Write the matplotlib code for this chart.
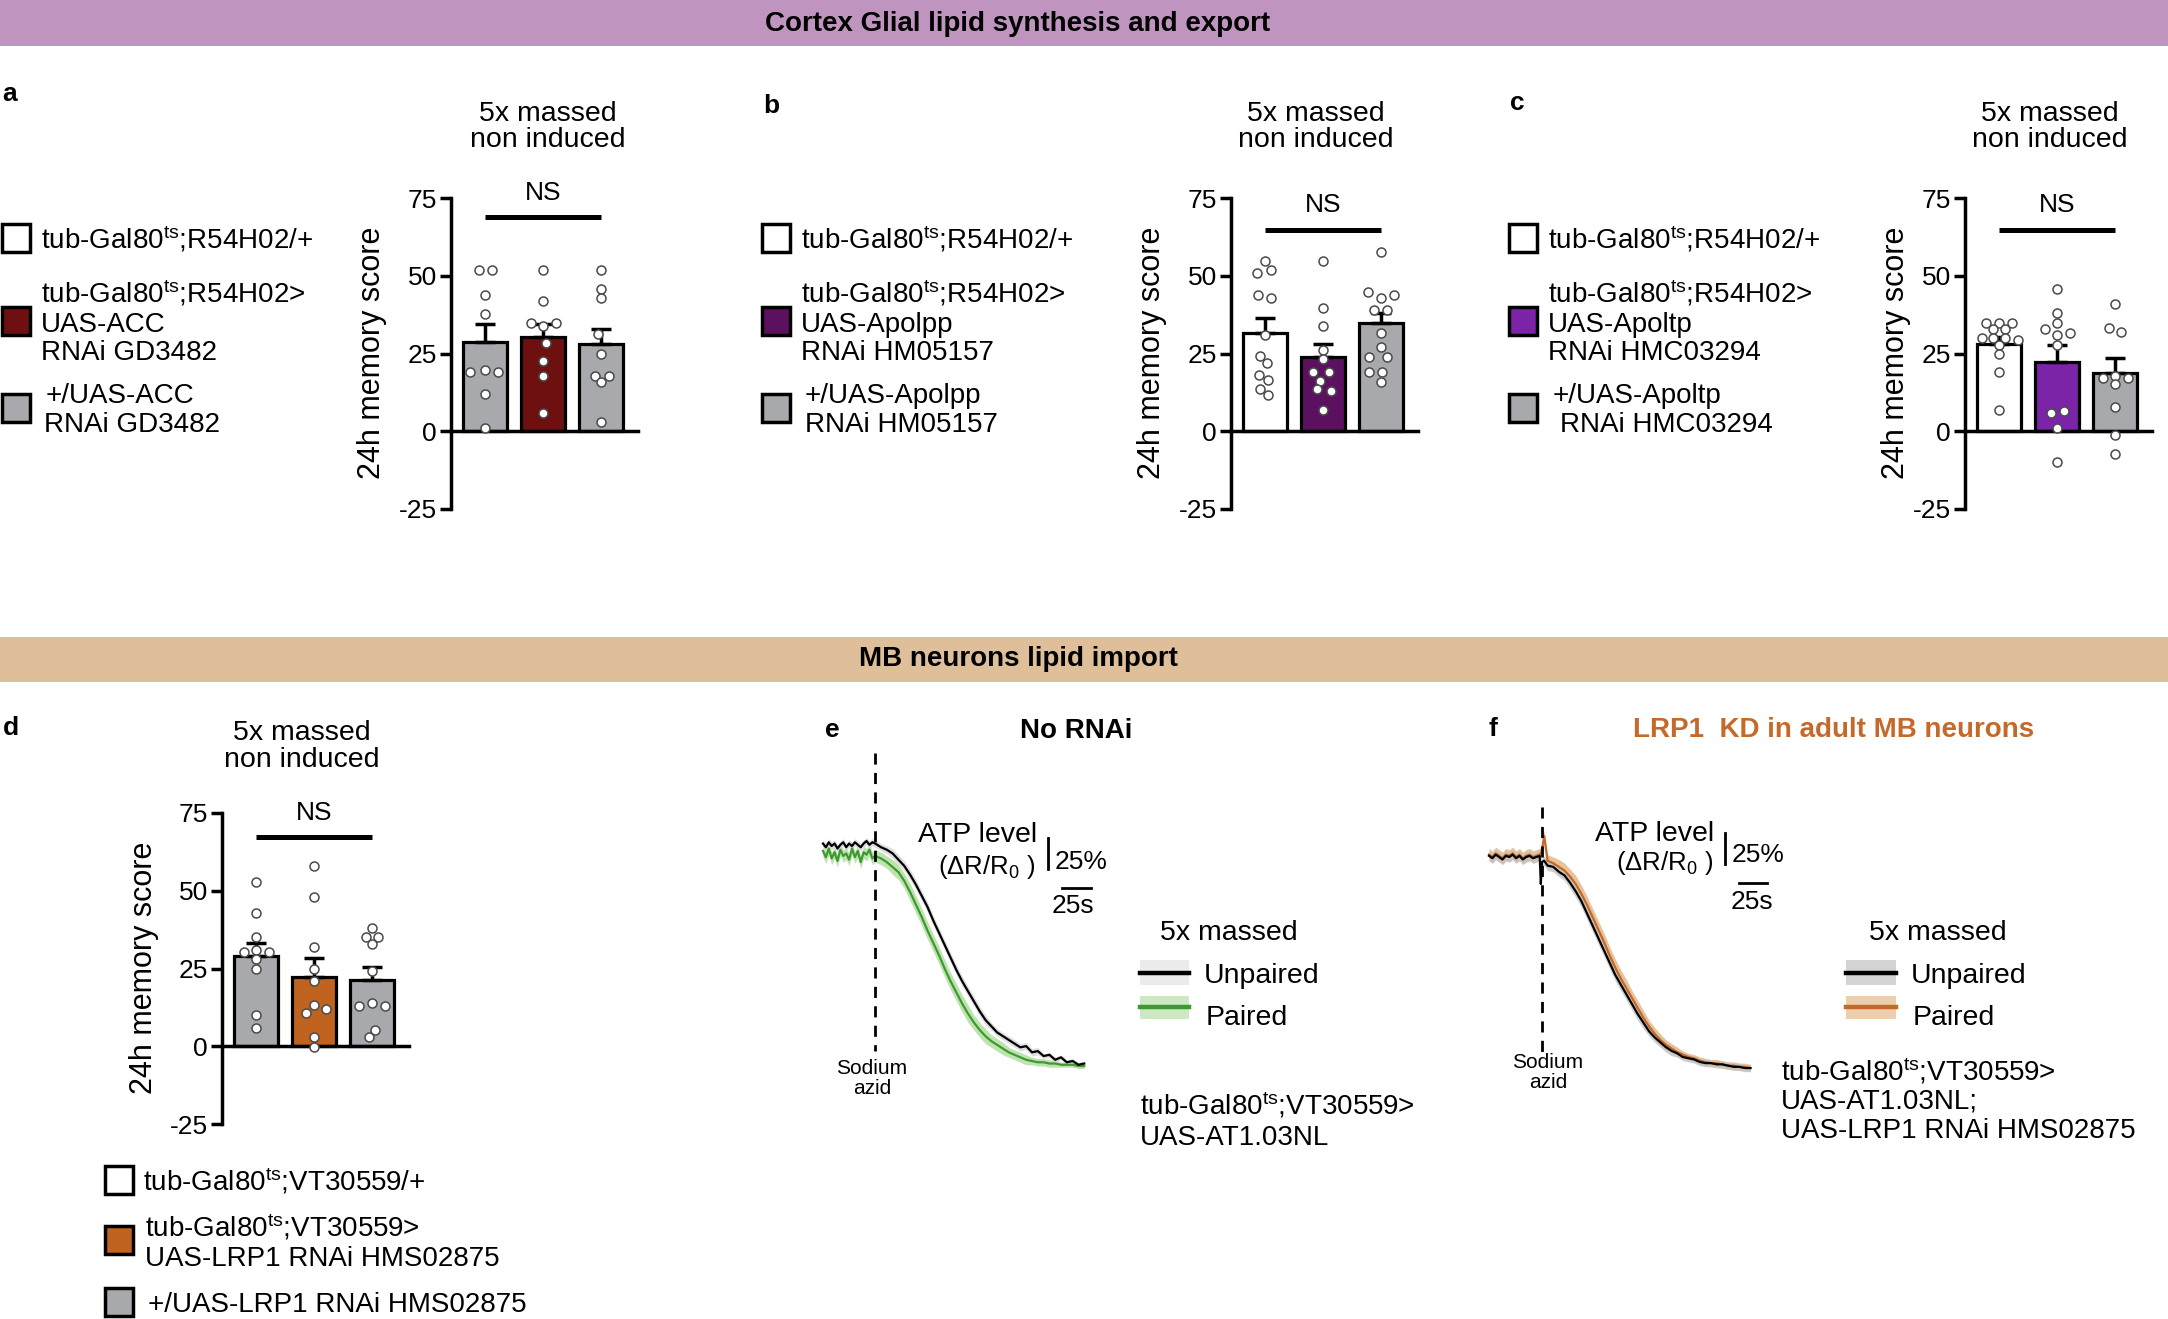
import numpy as np
import matplotlib
matplotlib.use('Agg')
import matplotlib.pyplot as plt
from matplotlib.patches import Rectangle
from matplotlib.lines import Line2D

plt.rcParams['font.family'] = ['Liberation Sans', 'DejaVu Sans']
plt.rcParams['mathtext.fontset'] = 'custom'
plt.rcParams['mathtext.rm'] = 'Liberation Sans'
plt.rcParams['mathtext.it'] = 'Liberation Sans:italic'
plt.rcParams['mathtext.bf'] = 'Liberation Sans:bold'

# ------------------------------------------------------------------ data
yticks = [-25, 0, 25, 50, 75]

# panel a
a_means = [28.8, 30.3, 28.0]
a_sems = [5.6, 4.3, 4.8]
a_vals = [[51.7, 51.7, 43.7, 37.8, 18.9, 19.7, 18.9, 12.0, 1.0],
          [51.7, 41.9, 34.9, 33.9, 34.9, 28.5, 22.6, 17.8, 5.9],
          [51.7, 45.8, 42.7, 31.2, 24.8, 17.8, 17.8, 15.7, 3.1]]
a_offs = [[-0.10, 0.12, 0, 0, -0.26, 0, 0.22, 0, 0],
          [0, 0, -0.20, 0, 0.22, 0.05, 0, 0, 0],
          [0, 0, 0, -0.05, 0, -0.10, 0.13, 0, 0]]
a_colors = ['#a7a9ac', '#6e1010', '#a7a9ac']
a_leg_colors = ['white', '#6e1010', '#a7a9ac']

# panel b
b_means = [31.7, 24.0, 34.7]
b_sems = [4.8, 4.0, 3.4]
b_vals = [[54.7, 50.9, 51.7, 43.7, 42.7, 31.0, 24.3, 21.8, 18.2, 16.5, 13.6, 11.6],
          [54.7, 39.7, 33.7, 26.1, 23.2, 18.9, 18.9, 16.2, 13.6, 13.0, 6.8],
          [57.7, 44.9, 42.7, 43.8, 38.9, 38.9, 31.7, 27.1, 23.9, 23.9, 18.9, 18.9, 15.7]]
b_offs = [[0, -0.14, 0.10, -0.12, 0.10, 0, -0.08, 0.04, -0.10, 0.06, -0.08, 0.05],
          [0, 0, 0, 0, 0, -0.18, 0.11, -0.06, -0.10, 0.14, 0],
          [0, -0.22, 0, 0.22, -0.12, 0.10, 0, 0, -0.20, 0.10, -0.20, 0.02, 0]]
b_colors = ['white', '#5c1060', '#a7a9ac']

# panel c
c_means = [28.2, 22.3, 18.7]
c_sems = [2.1, 5.5, 4.7]
c_vals = [[34.9, 34.9, 34.9, 32.8, 32.8, 30.1, 30.1, 30.1, 29.3, 27.8, 24.8, 18.9, 6.8],
          [45.8, 38.1, 34.9, 33.0, 31.7, 30.8, 27.8, 6.0, 6.5, 1.0, -10.0],
          [40.8, 33.3, 31.9, 17.1, 17.8, 17.1, 15.2, 7.7, -1.1, -7.3]]
c_offs = [[-0.22, 0, 0.22, -0.10, 0.10, -0.30, -0.10, 0.10, 0.33, 0, 0, 0, 0],
          [0, 0, 0, -0.20, 0.22, 0, 0, -0.10, 0.12, 0, 0],
          [0, -0.10, 0.10, -0.20, 0, 0.22, 0, 0, 0, 0]]
c_colors = ['white', '#7b24a8', '#a7a9ac']

# panel d
d_means = [29.1, 22.4, 21.3]
d_sems = [4.2, 5.9, 4.3]
d_vals = [[52.8, 42.8, 35.1, 30.3, 30.8, 30.3, 27.9, 25.0, 9.9, 6.0],
          [57.9, 47.9, 31.9, 25.0, 20.9, 10.8, 12.0, 13.3, 2.9, -0.4],
          [38.0, 35.1, 35.1, 32.9, 24.1, 13.0, 13.9, 13.0, 5.1, 2.9]]
d_offs = [[0, 0, 0, -0.20, 0, 0.22, 0, 0, 0, 0],
          [0, 0, 0, 0, 0, -0.14, 0.20, 0, 0, 0],
          [0, -0.10, 0.11, 0, 0, -0.22, 0, 0.22, 0.06, -0.06]]
d_colors = ['#a7a9ac', '#c0631f', '#a7a9ac']
d_leg_colors = ['white', '#c0631f', '#a7a9ac']

# panel e traces (time s relative to sodium azide, ATP level dR/R0 %)
e_t = [-45, -42.5, -40, -37.5, -35, -32.5, -30, -27.5, -25, -22.5, -20, -17.5,
       -15, -12.5, -10, -7.5, -5, -2.5, 0,
       5, 10, 15, 20, 25, 30, 35, 40, 45, 50, 55, 60, 65, 70, 75, 80, 85, 90,
       95, 100, 105, 110, 115, 120, 125, 130, 135, 140, 145, 150, 155, 160,
       165, 170, 175, 180]
e_unpaired = [2, -1, 3, 0, 2, -2, 1, 3, -1, 2, 0, 3, 1, -1, 2, 4, 1, 3, 2,
              -1, -3, -6, -11, -16, -23, -31, -40, -49, -60, -70, -80, -90, -100,
              -109, -117, -125, -133, -140, -145, -150, -153, -156, -159, -162,
              -161, -166, -165, -169, -168, -172, -170, -174, -173, -176, -175]
e_paired = [-4, -9, -2, -10, -5, -12, -3, -8, -6, -11, -2, -9, -4, -13, -5, -7, -3, -10, -8,
            -10, -13, -17, -21, -28, -37, -47, -57, -68, -78, -88, -99, -109, -118,
            -127, -135, -142, -148, -153, -157, -160, -163, -166, -168, -170, -172,
            -173, -174, -174, -175, -175, -176, -176, -176, -177, -177]
e_unpaired_sem = [3, 3, 3, 3, 3, 3, 3, 3, 3, 3, 3, 3, 3, 3, 3, 3, 3, 3, 3,
                  3, 3, 4, 4, 4, 4, 4, 4, 4, 4, 4, 4, 4, 4, 4, 4, 4, 4, 4, 3, 3,
                  3, 3, 3, 3, 3, 3, 3, 2, 2, 2, 2, 2, 2, 2, 2]
e_paired_sem = [5, 5, 5, 5, 5, 5, 5, 5, 5, 5, 5, 5, 5, 5, 5, 5, 5, 5, 5,
                5, 5, 6, 6, 6, 7, 7, 7, 7, 7, 7, 7, 7, 7, 7, 7, 6, 6, 6, 5, 5,
                5, 4, 4, 4, 4, 3, 3, 3, 3, 3, 2, 2, 2, 2, 2]

# panel f traces
f_t = [-47, -44, -41, -38, -35, -32, -29, -26, -23, -20, -17, -14, -11, -8, -5, -2,
       -1, 0, 2,
       5, 10, 15, 20, 25, 30, 35, 40, 45, 50, 55, 60, 65, 70, 75, 80, 85, 90,
       95, 100, 105, 110, 115, 120, 125, 130, 135, 140, 145, 150, 155, 160,
       165, 170, 175, 180, 185]
f_unpaired = [1, -1, 2, 0, -2, 1, 0, 2, -1, 1, -2, 0, 1, -1, 0, 1,
              -22, -4, -3,
              -7, -8, -12, -15, -21, -28, -36, -46, -56, -66, -76, -86, -96, -104,
              -112, -120, -128, -135, -142, -147, -151, -155, -158, -160, -163,
              -164, -165, -167, -168, -168, -169, -169, -170, -171, -171, -172, -172]
f_paired = [2, 0, 3, 1, -1, 2, 1, 3, 0, 2, -1, 1, 2, 0, 1, 2,
            3, 6, 17,
            -3, -5, -8, -11, -16, -22, -30, -39, -49, -59, -69, -80, -90, -99,
            -107, -115, -123, -131, -138, -144, -149, -153, -156, -159, -161,
            -163, -164, -166, -167, -168, -168, -169, -170, -170, -171, -171, -172]
f_unpaired_sem = [4, 4, 4, 4, 4, 4, 4, 4, 4, 4, 4, 4, 4, 4, 4, 4,
                  4, 4, 4,
                  4, 4, 4, 4, 5, 5, 5, 5, 5, 5, 5, 5, 5, 5, 5, 5, 5, 5, 4, 4,
                  4, 4, 4, 3, 3, 3, 3, 3, 3, 3, 3, 3, 3, 3, 3, 3, 3]
f_paired_sem = [5, 5, 5, 5, 5, 5, 5, 5, 5, 5, 5, 5, 5, 5, 5, 5,
                5, 5, 5,
                5, 5, 6, 6, 6, 7, 7, 7, 7, 7, 7, 7, 7, 7, 7, 6, 6, 6, 5, 5,
                5, 4, 4, 4, 3, 3, 3, 3, 3, 3, 3, 3, 3, 3, 3, 3, 3]

# ------------------------------------------------------------------ figure
W, H = 2168, 1319
fig = plt.figure(figsize=(W / 100, H / 100), dpi=100)


def T(x, y, s, **kw):
    return fig.text(x / W, 1 - y / H, s, **kw)


def AX(x0, y0, x1, y1):
    return fig.add_axes([x0 / W, 1 - y1 / H, (x1 - x0) / W, (y1 - y0) / H])


def L(x0, y0, x1, y1, **kw):
    fig.add_artist(Line2D([x0 / W, x1 / W], [1 - y0 / H, 1 - y1 / H], **kw))


def R(x0, y0, x1, y1, **kw):
    fig.add_artist(Rectangle((x0 / W, 1 - y1 / H), (x1 - x0) / W, (y1 - y0) / H, **kw))


TS = r'$^{\rm ts}$'
FS_TITLE = 20.5
FS_YLAB = 22
FS_TICK = 19
FS_NS = 19
FS_LEG = 20

# headers
R(0, 0, W, 46, facecolor='#bf95bf', edgecolor='none', zorder=0)
T(1018, 24, 'Cortex Glial lipid synthesis and export', ha='center', va='center',
  fontsize=20, fontweight='bold')
R(0, 637, W, 682, facecolor='#dfbf99', edgecolor='none', zorder=0)
T(1018, 659, 'MB neurons lipid import', ha='center', va='center',
  fontsize=20, fontweight='bold')


def bar_panel(x_axis, y75, means, sems, colors, offs, vals, ns_y, ns_txt_y):
    ax = AX(x_axis, y75, x_axis + 187, y75 + 311)
    xs = np.arange(3)
    ax.bar(xs, means, width=0.76, color=colors, edgecolor='black', linewidth=2.3, zorder=2)
    ax.errorbar(xs, means, yerr=[np.zeros(3), sems], fmt='none', ecolor='black',
                elinewidth=2.5, capsize=7, capthick=2.5, zorder=3)
    for i in range(3):
        ax.scatter(i + np.array(offs[i]), vals[i], s=42, facecolor='white',
                   edgecolor='#4a4a4a', linewidth=1.1, zorder=5, clip_on=False)
    ax.set_xlim(-0.586, 2.638)
    ax.set_ylim(-25, 75)
    for s in ['top', 'right']:
        ax.spines[s].set_visible(False)
    ax.spines['bottom'].set_position(('data', 0))
    ax.spines['bottom'].set_linewidth(2.5)
    ax.spines['left'].set_linewidth(2.5)
    ax.set_xticks([])
    ax.set_yticks(yticks)
    ax.set_yticklabels([str(v) for v in yticks])
    ax.tick_params(axis='y', length=8, width=2.5, labelsize=FS_TICK, pad=2)
    ax.patch.set_alpha(0)
    ax.plot([0, 2], [ns_y, ns_y], color='black', lw=3.6, solid_capstyle='butt', clip_on=False)
    ax.text(1, ns_txt_y, 'NS', ha='center', va='center', fontsize=FS_NS)
    return ax


def legend_rows(x_box, rows):
    for yc, fc, lines in rows:
        R(x_box, yc - 14, x_box + 28, yc + 14, facecolor=fc, edgecolor='black', linewidth=2.5)
        for x, y, s in lines:
            T(x, y + 10, s, ha='left', va='baseline', fontsize=FS_LEG)


# ---- panel a
T(10, 94, 'a', ha='center', va='center', fontsize=19, fontweight='bold')
T(548, 114, '5x massed', ha='center', va='center', fontsize=FS_TITLE)
T(548, 140, 'non induced', ha='center', va='center', fontsize=FS_TITLE)
bar_panel(451, 198, a_means, a_sems, a_colors, a_offs, a_vals, 68.9, 76.6)
T(372, 353, '24h memory score', rotation=90, ha='center', va='center', fontsize=FS_YLAB)
legend_rows(2, [(238, a_leg_colors[0], [(41, 238, 'tub-Gal80' + TS + ';R54H02/+')]),
                (321, a_leg_colors[1], [(41, 293, 'tub-Gal80' + TS + ';R54H02>'),
                                        (41, 322, 'UAS-ACC'), (41, 350, 'RNAi GD3482')]),
                (408, a_leg_colors[2], [(46, 393, '+/UAS-ACC'), (44, 422, 'RNAi GD3482')])])

# ---- panel b
T(771, 106, 'b', ha='center', va='center', fontsize=19, fontweight='bold')
T(1316, 114, '5x massed', ha='center', va='center', fontsize=FS_TITLE)
T(1316, 140, 'non induced', ha='center', va='center', fontsize=FS_TITLE)
bar_panel(1231, 198, b_means, b_sems, b_colors, b_offs, b_vals, 64.7, 72.7)
T(1152, 353, '24h memory score', rotation=90, ha='center', va='center', fontsize=FS_YLAB)
legend_rows(762, [(238, b_colors[0], [(801, 238, 'tub-Gal80' + TS + ';R54H02/+')]),
                  (321, b_colors[1], [(801, 293, 'tub-Gal80' + TS + ';R54H02>'),
                                      (801, 322, 'UAS-Apolpp'), (801, 350, 'RNAi HM05157')]),
                  (408, b_colors[2], [(805, 393, '+/UAS-Apolpp'), (805, 422, 'RNAi HM05157')])])

# ---- panel c
T(1517, 103, 'c', ha='center', va='center', fontsize=19, fontweight='bold')
T(2050, 114, '5x massed', ha='center', va='center', fontsize=FS_TITLE)
T(2050, 140, 'non induced', ha='center', va='center', fontsize=FS_TITLE)
bar_panel(1965, 198, c_means, c_sems, c_colors, c_offs, c_vals, 64.7, 72.7)
T(1896, 353, '24h memory score', rotation=90, ha='center', va='center', fontsize=FS_YLAB)
legend_rows(1509, [(238, c_colors[0], [(1548, 238, 'tub-Gal80' + TS + ';R54H02/+')]),
                   (321, c_colors[1], [(1548, 293, 'tub-Gal80' + TS + ';R54H02>'),
                                       (1548, 322, 'UAS-Apoltp'), (1548, 350, 'RNAi HMC03294')]),
                   (408, c_colors[2], [(1553, 393, '+/UAS-Apoltp'), (1560, 422, 'RNAi HMC03294')])])

# ---- panel d
T(11, 728, 'd', ha='center', va='center', fontsize=19, fontweight='bold')
T(302, 733, '5x massed', ha='center', va='center', fontsize=FS_TITLE)
T(302, 760, 'non induced', ha='center', va='center', fontsize=FS_TITLE)
bar_panel(222, 813, d_means, d_sems, d_colors, d_offs, d_vals, 67.3, 75.0)
T(144, 968, '24h memory score', rotation=90, ha='center', va='center', fontsize=FS_YLAB)
legend_rows(105, [(1180, d_leg_colors[0], [(143, 1180, 'tub-Gal80' + TS + ';VT30559/+')]),
                  (1240, d_leg_colors[1], [(145, 1226, 'tub-Gal80' + TS + ';VT30559>'),
                                           (145, 1256, 'UAS-LRP1 RNAi HMS02875')]),
                  (1302, d_leg_colors[2], [(148, 1302, '+/UAS-LRP1 RNAi HMS02875')])])


# ---- trace panels
def trace_panel(rect, xlim, ylim, t, v1, s1, v2, s2, c2, band1, band2, dash_v):
    ax = AX(*rect)
    t = np.array(t)
    v1, s1, v2, s2 = map(np.array, (v1, s1, v2, s2))
    ax.fill_between(t, v2 - s2, v2 + s2, color=band2, lw=0, zorder=1)
    ax.fill_between(t, v1 - s1, v1 + s1, color=band1, lw=0, zorder=1, alpha=0.8)
    ax.plot(t, v2, color=c2, lw=1.6, zorder=3)
    ax.plot(t, v1, color='black', lw=1.6, zorder=4)
    ax.plot([0, 0], dash_v, color='black', lw=2.0, dashes=(4, 3), zorder=5)
    ax.set_xlim(*xlim)
    ax.set_ylim(*ylim)
    ax.axis('off')
    return ax


# panel e
T(832, 730, 'e', ha='center', va='center', fontsize=19, fontweight='bold')
T(1076, 731, 'No RNAi', ha='center', va='center', fontsize=20, fontweight='bold')
trace_panel((780, 740, 1120, 1110), (-82.0, 210.8), (-212.4, 85.3),
            e_t, e_unpaired, e_unpaired_sem, e_paired, e_paired_sem,
            '#3d9a2f', '#d6d6d6', '#bfe3b0', (74.8, -164.9))
T(1037, 835, 'ATP level', ha='right', va='center', fontsize=20.5)
T(1035, 867, '(ΔR/R$_0$ )', ha='right', va='center', fontsize=18.5)
L(1048, 838, 1048, 869, color='black', lw=2.0)
T(1055, 862, '25%', ha='left', va='center', fontsize=19)
L(1062, 888, 1091, 888, color='black', lw=2.0)
T(1073, 906, '25s', ha='center', va='center', fontsize=19)
T(872, 1068, 'Sodium', ha='center', va='center', fontsize=15)
T(872, 1089, 'azid', ha='center', va='center', fontsize=15)
T(1229, 933, '5x massed', ha='center', va='center', fontsize=20.5)
R(1140, 960, 1189, 985, facecolor='#ebebeb', edgecolor='none')
L(1140, 973, 1189, 973, color='black', lw=3.2)
T(1204, 983, 'Unpaired', ha='left', va='baseline', fontsize=20.5)
R(1140, 996, 1189, 1019, facecolor='#cde8c2', edgecolor='none')
L(1140, 1007, 1189, 1007, color='#3d9a2f', lw=3.2)
T(1206, 1025, 'Paired', ha='left', va='baseline', fontsize=20.5)
T(1140, 1115, 'tub-Gal80' + TS + ';VT30559>', ha='left', va='baseline', fontsize=FS_LEG)
T(1140, 1145, 'UAS-AT1.03NL', ha='left', va='baseline', fontsize=FS_LEG)

# panel f
T(1493, 729, 'f', ha='center', va='center', fontsize=19, fontweight='bold')
T(1834, 730, 'LRP1  KD in adult MB neurons', ha='center', va='center', fontsize=20,
  fontweight='bold', color='#c4692a')
trace_panel((1450, 740, 1800, 1110), (-81.6, 229.0), (-206.2, 95.4),
            f_t, f_unpaired, f_unpaired_sem, f_paired, f_paired_sem,
            '#c4692a', '#c4c4c4', '#e8c39a', (40.7, -158.9))
T(1714, 834, 'ATP level', ha='right', va='center', fontsize=20.5)
T(1713, 863, '(ΔR/R$_0$ )', ha='right', va='center', fontsize=18.5)
L(1725, 833, 1725, 864, color='black', lw=2.0)
T(1732, 855, '25%', ha='left', va='center', fontsize=19)
L(1739, 883, 1767, 883, color='black', lw=2.0)
T(1752, 902, '25s', ha='center', va='center', fontsize=19)
T(1548, 1062, 'Sodium', ha='center', va='center', fontsize=15)
T(1548, 1083, 'azid', ha='center', va='center', fontsize=15)
T(1938, 933, '5x massed', ha='center', va='center', fontsize=20.5)
R(1846, 960, 1896, 985, facecolor='#d4d4d4', edgecolor='none')
L(1846, 973, 1896, 973, color='black', lw=3.2)
T(1911, 983, 'Unpaired', ha='left', va='baseline', fontsize=20.5)
R(1846, 996, 1896, 1019, facecolor='#ebcfae', edgecolor='none')
L(1846, 1007, 1896, 1007, color='#c4692a', lw=3.2)
T(1913, 1025, 'Paired', ha='left', va='baseline', fontsize=20.5)
T(1781, 1080, 'tub-Gal80' + TS + ';VT30559>', ha='left', va='baseline', fontsize=FS_LEG)
T(1781, 1109, 'UAS-AT1.03NL;', ha='left', va='baseline', fontsize=FS_LEG)
T(1781, 1138, 'UAS-LRP1 RNAi HMS02875', ha='left', va='baseline', fontsize=FS_LEG)

fig.savefig('out.png', dpi=100)
